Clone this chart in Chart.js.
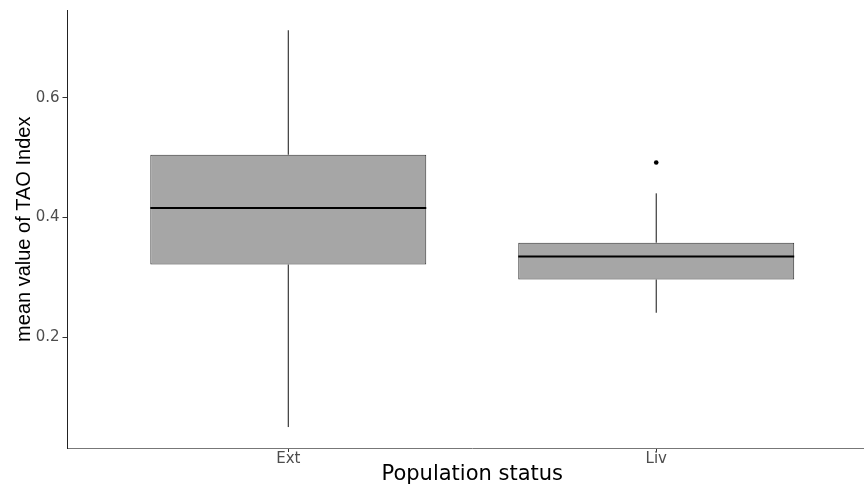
<!DOCTYPE html>
<html>
<head>
<meta charset="utf-8">
<script src="https://cdn.jsdelivr.net/npm/chart.js@4.4.1/dist/chart.umd.min.js"></script>
<style>
  html, body { margin: 0; padding: 0; background: #fff; overflow: hidden; }
  #wrap { position: absolute; left: 0; top: 0; }
</style>
</head>
<body>
<div id="wrap"><canvas id="boxChart" width="890" height="486"></canvas></div>
<script>
// box plot values
const categories = ['Ext', 'Liv'];
const lowerWhisker = [0.050, 0.241];
const q1 = [0.3215, 0.2965];
const median = [0.416, 0.335];
const q3 = [0.505, 0.358];
const upperWhisker = [0.713, 0.4405];
const outliers = [[], [0.492]];
const yTicks = [0.2, 0.4, 0.6];

const halfBox = 0.375;
const datasets = [];

// boxes: floating bars from q1 to q3
datasets.push({
    type: 'bar',
    data: categories.map((c, i) => ({ x: i, y: [q1[i], q3[i]] })),
    backgroundColor: '#a6a6a6',
    borderColor: '#333333',
    borderWidth: 1,
    borderSkipped: false,
    categoryPercentage: 1,
    barPercentage: 0.75,
    order: 3
});

categories.forEach((c, i) => {
    // whiskers
    [[q3[i], upperWhisker[i]], [lowerWhisker[i], q1[i]]].forEach(seg => {
        datasets.push({
            type: 'line',
            data: [{ x: i, y: seg[0] }, { x: i, y: seg[1] }],
            borderColor: '#111111',
            borderWidth: 1,
            pointRadius: 0,
            order: 2
        });
    });
    // median
    datasets.push({
        type: 'line',
        data: [{ x: i - halfBox, y: median[i] }, { x: i + halfBox, y: median[i] }],
        borderColor: '#000000',
        borderWidth: 2,
        pointRadius: 0,
        order: 0
    });
});

// outliers
datasets.push({
    type: 'scatter',
    data: outliers.flatMap((arr, i) => arr.map(v => ({ x: i, y: v }))),
    backgroundColor: '#000000',
    borderWidth: 0,
    pointRadius: 2.3,
    order: 0
});

const ctx = document.getElementById('boxChart').getContext('2d');
const boxChart = new Chart(ctx, {
    type: 'bar',
    data: { datasets: datasets },
    options: {
        responsive: false,
        animation: false,
        devicePixelRatio: 1,
        layout: { padding: { top: 10, right: 13, left: 0, bottom: 0 } },
        plugins: {
            legend: { display: false },
            tooltip: { enabled: false }
        },
        scales: {
            x: {
                type: 'linear',
                min: -0.6,
                max: 1.6,
                offset: false,
                afterFit: s => { s.height = 38; },
                afterBuildTicks: s => { s.ticks = categories.map((c, i) => ({ value: i })); },
                grid: { drawOnChartArea: false, offset: false, tickLength: 4, tickColor: '#333333' },
                border: { display: true, color: '#777777', width: 1 },
                ticks: {
                    padding: 0,
                    color: '#4d4d4d',
                    font: { family: 'DejaVu Sans', size: 15, lineHeight: 1 },
                    callback: v => categories[Math.round(v)]
                },
                title: {
                    display: true,
                    text: 'Population status',
                    color: '#000000',
                    font: { family: 'DejaVu Sans', size: 21, lineHeight: 1 },
                    padding: { top: 0, bottom: 1 }
                }
            },
            y: {
                min: 0.015,
                max: 0.746,
                afterFit: s => { s.width = 67.5; },
                afterBuildTicks: s => { s.ticks = yTicks.map(v => ({ value: v })); },
                grid: { drawOnChartArea: false, tickLength: 5, tickColor: '#333333' },
                border: { display: true, color: '#222222', width: 1 },
                ticks: {
                    padding: 3,
                    color: '#4d4d4d',
                    font: { family: 'DejaVu Sans', size: 15, lineHeight: 1 },
                    callback: v => v.toFixed(1)
                },
                title: {
                    display: true,
                    text: 'mean value of TAO Index',
                    color: '#000000',
                    font: { family: 'Liberation Sans', size: 20, lineHeight: 1 },
                    padding: { top: 14.6, bottom: 0 }
                }
            }
        }
    }
});
</script>
</body>
</html>
